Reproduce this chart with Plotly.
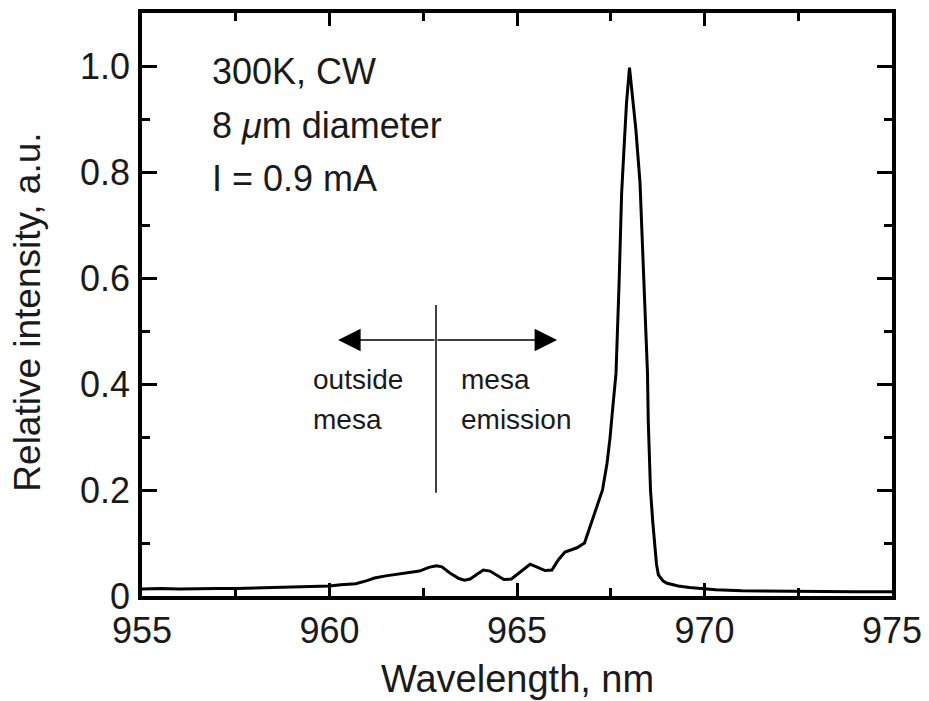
import plotly.graph_objects as go

# spectrum
wavelength = [955.0, 955.5, 956.0, 956.5, 957.0, 957.5, 958.0, 958.5, 959.0, 959.5,
              960.0, 960.3, 960.7, 961.0, 961.2, 961.5, 962.0, 962.4, 962.65, 962.85,
              963.0, 963.2, 963.45, 963.6, 963.75, 963.95, 964.1, 964.28, 964.45, 964.65,
              964.85, 965.1, 965.35, 965.55, 965.75, 965.93, 966.1, 966.28, 966.6, 966.8,
              967.0, 967.15, 967.28, 967.4, 967.48, 967.56, 967.64, 967.72, 967.79, 967.85,
              967.92, 968.0, 968.07, 968.17, 968.28, 968.38, 968.45, 968.48, 968.5, 968.53,
              968.56, 968.62, 968.66, 968.72, 968.77, 968.9, 969.0, 969.3, 969.6, 969.9,
              970.3, 971.0, 972.0, 973.0, 974.0, 975.0]
intensity = [0.013, 0.014, 0.013, 0.014, 0.014, 0.014, 0.015, 0.015, 0.016, 0.017,
             0.019, 0.021, 0.023, 0.029, 0.034, 0.038, 0.043, 0.047, 0.054, 0.057,
             0.055, 0.044, 0.033, 0.030, 0.032, 0.042, 0.049, 0.047, 0.040, 0.031,
             0.032, 0.046, 0.060, 0.054, 0.048, 0.049, 0.068, 0.083, 0.091, 0.100,
             0.140, 0.170, 0.200, 0.250, 0.298, 0.360, 0.420, 0.585, 0.760, 0.840,
             0.930, 0.997, 0.950, 0.880, 0.780, 0.600, 0.500, 0.420, 0.330, 0.250,
             0.200, 0.140, 0.100, 0.060, 0.040, 0.028, 0.024, 0.019, 0.016, 0.014,
             0.012, 0.010, 0.009, 0.008, 0.008, 0.008]

y_ticks = [0, 0.2, 0.4, 0.6, 0.8, 1.0]
y_tick_text = ["0", "0.2", "0.4", "0.6", "0.8", "1.0"]
x_ticks = [955, 960, 965, 970, 975]
x_tick_text = ["955", "960", "965", "970", "975"]

font = "Liberation Sans, Arial, sans-serif"
ink = "#1a1a1a"

fig = go.Figure()
fig.add_trace(go.Scatter(x=wavelength, y=intensity, mode="lines",
                         line=dict(color="black", width=3), showlegend=False))

axis_common = dict(showline=True, linecolor="black", linewidth=3.5, mirror="allticks",
                   ticks="inside", tickwidth=2.5, tickcolor="black",
                   showgrid=False, zeroline=False,
                   tickfont=dict(family=font, size=36, color=ink))
fig.update_xaxes(range=[955, 975], tickvals=x_ticks, ticktext=x_tick_text, ticklen=13,
                 minor=dict(dtick=2.5, ticks="inside", ticklen=8, tickwidth=2.5, tickcolor="black"),
                 ticklabelstandoff=0, **axis_common)
fig.update_yaxes(range=[0, 1.1], tickvals=y_ticks, ticktext=y_tick_text, ticklen=15,
                 minor=dict(dtick=0.1, ticks="inside", ticklen=8, tickwidth=2.5, tickcolor="black"),
                 ticklabelstandoff=1, **axis_common)

# text in the plot
for txt, yv in [("300K, CW", 0.989), ("8 <i>μ</i>m diameter", 0.888), ("I = 0.9 mA", 0.788)]:
    fig.add_annotation(x=956.82, y=yv, text=txt, showarrow=False, xanchor="left", yanchor="middle",
                       font=dict(family=font, size=36, color=ink))

for txt, xv, yv in [("outside", 959.5, 0.408), ("mesa", 959.5, 0.333),
                    ("mesa", 963.45, 0.408), ("emission", 963.45, 0.333)]:
    fig.add_annotation(x=xv, y=yv, text=txt, showarrow=False, xanchor="left", yanchor="middle",
                       font=dict(family=font, size=28, color=ink))

# divider and arrows
fig.add_shape(type="line", x0=962.84, x1=962.84, y0=0.195, y1=0.549,
              line=dict(color="black", width=1.5))
for tip in [960.23, 966.07]:
    fig.add_annotation(x=tip, y=0.483, ax=962.84, ay=0.483, axref="x", ayref="y",
                       showarrow=True, arrowhead=2, arrowsize=3, arrowwidth=1.5,
                       arrowcolor="black", text="")

fig.add_annotation(x=0.5, y=-0.142, xref="paper", yref="paper", text="Wavelength, nm",
                   showarrow=False, yanchor="middle", font=dict(family=font, size=38, color=ink))
fig.add_annotation(x=-0.152, y=0.486, xref="paper", yref="paper", text="Relative intensity, a.u.",
                   showarrow=False, textangle=-90, xanchor="center", yanchor="middle",
                   font=dict(family=font, size=37, color=ink))

# page body has an 8px margin, so the figure is sized to fit inside the window
fig.update_layout(width=921, height=693, margin=dict(l=134, r=37, t=1, b=105),
                  plot_bgcolor="white", paper_bgcolor="white")
fig.write_html("out.html")
